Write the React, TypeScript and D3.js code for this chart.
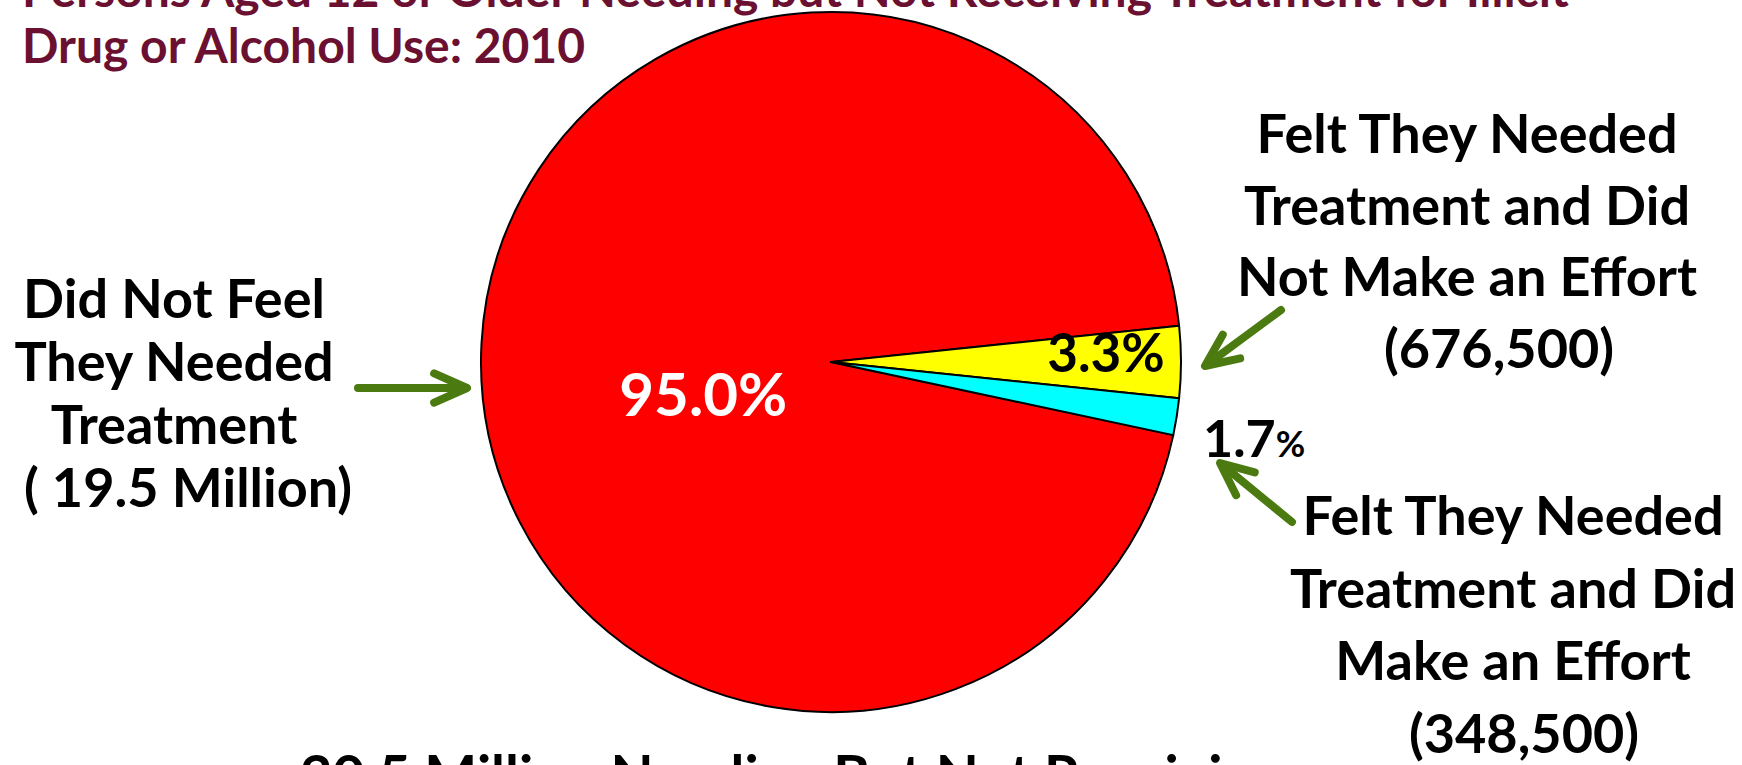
import React from 'react';
import * as d3 from 'd3';

const titleLines = [
  'Persons Aged 12 or Older Needing but Not Receiving Treatment for Illicit',
  'Drug or Alcohol Use: 2010',
];

const sliceKeys = ['noFeel', 'feltNoEffort', 'feltEffort'];
const slicePercents = [95.0, 3.3, 1.7];
const sliceColors = ['#FF0000', '#FFFF00', '#00FFFF'];

const leftLabel = ['Did Not Feel', 'They Needed', 'Treatment', '( 19.5 Million)'];
const upperRightLabel = ['Felt They Needed', 'Treatment and Did', 'Not Make an Effort', '(676,500)'];
const lowerRightLabel = ['Felt They Needed', 'Treatment and Did', 'Make an Effort', '(348,500)'];
const footerText = '20.5 Million Needing But Not Receiving';

const width = 1742;
const height = 765;
const cx = 831;
const cy = 362;
const radius = 350;
const arrowColor = '#4B7B10';
const font = "Lato, 'Open Sans', sans-serif";

const Arrow = ({ x1, y1, x2, y2 }) => {
  const ang = Math.atan2(y2 - y1, x2 - x1);
  const len = 36;
  const spread = 0.42;
  const a1 = [x2 - len * Math.cos(ang - spread), y2 - len * Math.sin(ang - spread)];
  const a2 = [x2 - len * Math.cos(ang + spread), y2 - len * Math.sin(ang + spread)];
  return (
    <g stroke={arrowColor} strokeWidth={8} strokeLinecap="round" strokeLinejoin="round" fill="none">
      <line x1={x1} y1={y1} x2={x2 - 3 * Math.cos(ang)} y2={y2 - 3 * Math.sin(ang)} />
      <polyline points={`${a1[0]},${a1[1]} ${x2},${y2} ${a2[0]},${a2[1]}`} />
    </g>
  );
};

export default function App() {
  const data = sliceKeys.map((k, i) => ({ key: k, value: slicePercents[i], color: sliceColors[i] }));

  // red slice starts right after cyan so yellow sits centred on the horizontal
  const start = Math.PI / 2 + ((slicePercents[1] / 2 + slicePercents[2]) / 100) * 2 * Math.PI;
  const pie = d3
    .pie<any>()
    .sort(null)
    .value(d => d.value)
    .startAngle(start)
    .endAngle(start + 2 * Math.PI);
  const arcs = pie(data);

  const arc = d3.arc<any>().innerRadius(0).outerRadius(radius);
  const redLabelArc = d3.arc<any>().innerRadius(128).outerRadius(128);
  const yellowLabelArc = d3.arc<any>().innerRadius(275).outerRadius(275);

  const redC = redLabelArc.centroid(arcs[0]);
  const yelC = yellowLabelArc.centroid(arcs[1]);

  return (
    <svg width={width} height={height} style={{ position: 'absolute', left: 0, top: 0, background: '#fff' }}>
      <g fill="#6B1030" fontFamily={font} fontWeight={700} fontSize={48}>
        {titleLines.map((t, i) => (
          <text key={i} x={22} y={7 + i * 56}>{t}</text>
        ))}
      </g>

      <g transform={`translate(${cx},${cy})`}>
        {arcs.map(a => (
          <path key={a.data.key} d={arc(a)} fill={a.data.color} stroke="#000" strokeWidth={2} strokeLinejoin="round" />
        ))}
        <text x={redC[0]} y={redC[1] + 61} textAnchor="middle" fill="#fff" fontFamily={font} fontWeight={700} fontSize={60}>
          {slicePercents[0].toFixed(1)}%
        </text>
        <text x={yelC[0]} y={yelC[1] + 10} textAnchor="middle" fill="#000" fontFamily={font} fontWeight={700} fontSize={53}>
          {slicePercents[1].toFixed(1)}%
        </text>
      </g>

      <text x={1203} y={457} fill="#000" fontFamily={font} fontWeight={700} fontSize={52}>
        {slicePercents[2].toFixed(1)}
        <tspan fontSize={36}>%</tspan>
      </text>

      <g fill="#000" fontFamily={font} fontWeight={700} textAnchor="middle">
        {leftLabel.map((t, i) => (
          <text key={i} x={i === 3 ? 188 : 174} y={318 + i * 63} fontSize={54}>{t}</text>
        ))}
        {upperRightLabel.map((t, i) => (
          <text key={i} x={i === 3 ? 1499 : 1467} y={153 + i * 71.5} fontSize={54}>{t}</text>
        ))}
        {lowerRightLabel.map((t, i) => (
          <text key={i} x={i === 3 ? 1524 : 1513} y={535 + i * 72.5} fontSize={54}>{t}</text>
        ))}
      </g>

      <text x={300} y={795} fill="#000" fontFamily={font} fontWeight={700} fontSize={56}>{footerText}</text>

      <Arrow x1={358} y1={388} x2={467} y2={388} />
      <Arrow x1={1281} y1={310} x2={1205} y2={366} />
      <Arrow x1={1292} y1={522} x2={1220} y2={463} />
    </svg>
  );
}
